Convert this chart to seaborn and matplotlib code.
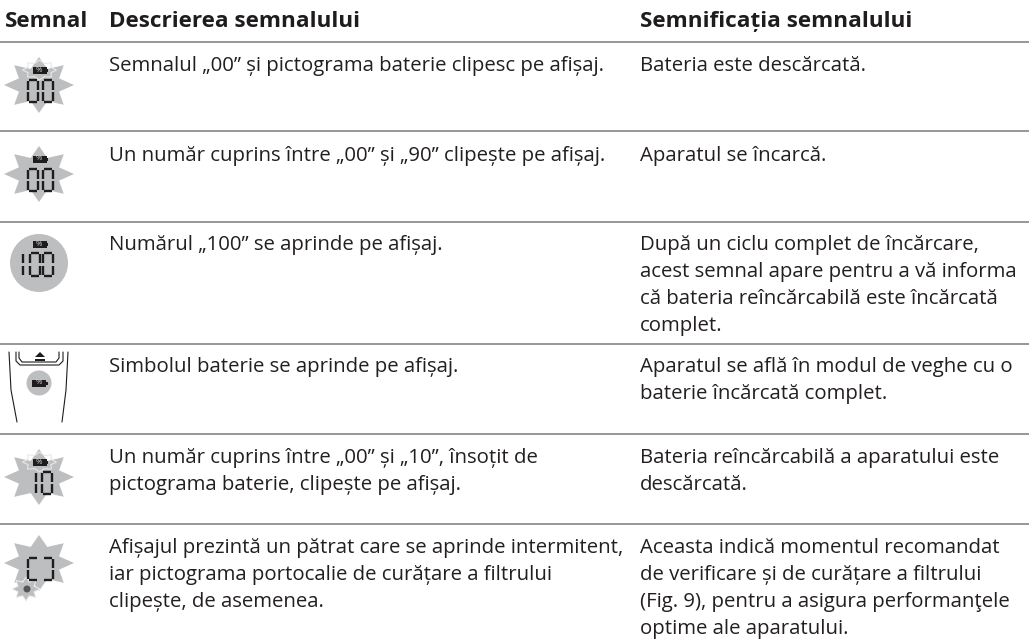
import numpy as np
import matplotlib
matplotlib.use("Agg")
import matplotlib.pyplot as plt
from matplotlib.patches import Polygon, Circle, Rectangle
import pandas as pd
import seaborn as sns

# Texte tabel
antet = ["Semnal", "Descrierea semnalului", "Semnificația semnalului"]
descriere = [
    "Semnalul „00” și pictograma baterie clipesc pe afișaj.",
    "Un număr cuprins între „00” și „90” clipește pe afișaj.",
    "Numărul „100” se aprinde pe afișaj.",
    "Simbolul baterie se aprinde pe afișaj.",
    "Un număr cuprins între „00” și „10”, însoțit de\npictograma baterie, clipește pe afișaj.",
    "Afișajul prezintă un pătrat care se aprinde intermitent,\niar pictograma portocalie de curățare a filtrului\nclipește, de asemenea.",
]
semnificatie = [
    "Bateria este descărcată.",
    "Aparatul se încarcă.",
    "După un ciclu complet de încărcare,\nacest semnal apare pentru a vă informa\ncă bateria reîncărcabilă este încărcată\ncomplet.",
    "Aparatul se află în modul de veghe cu o\nbaterie încărcată complet.",
    "Bateria reîncărcabilă a aparatului este\ndescărcată.",
    "Aceasta indică momentul recomandat\nde verificare și de curățare a filtrului\n(Fig. 9), pentru a asigura performanţele\noptime ale aparatului.",
]
cifre = ["00", "00", "100", "", "10", "[]"]

# pozitii randuri (pixeli)
linii_y = [42, 131, 222, 344, 434, 524]
baza_y = [71, 161, 250, 372, 463, 553]
icon_y = [85, 174, 263, None, 477, 563]
PAS = 27

GRI = "#bcbec0"
NEGRU = "#1f1c1d"

sns.set_theme(style="white")
plt.rcParams['font.family'] = ['Open Sans', 'DejaVu Sans']

fig, ax = plt.subplots(figsize=(10.29, 6.41), dpi=100)
fig.subplots_adjust(0, 0, 1, 1)
ax.set_xlim(0, 1029)
ax.set_ylim(641, 0)
ax.axis("off")

# Liniile orizontale
for y in linii_y:
    df = pd.DataFrame({"x": [0, 1029], "y": [y, y]})
    sns.lineplot(data=df, x="x", y="y", color="#8f8f8f", lw=1.3, ax=ax, legend=False, estimator=None)


def stea(cx, cy, rx=35, ry=28, n=8, inner=0.62, culoare=GRI, contur="none"):
    unghi = np.arange(2 * n) * np.pi / n - np.pi / 2
    raza = np.where(np.arange(2 * n) % 2 == 0, 1.0, inner)
    pts = np.column_stack([cx + rx * raza * np.cos(unghi), cy + ry * raza * np.sin(unghi)])
    ax.add_patch(Polygon(pts, closed=True, fc=culoare, ec=contur, lw=0.7, zorder=2))


def segment(x0, y0, x1, y1, lw=1.7):
    ax.plot([x0, x1], [y0, y1], color=NEGRU, lw=lw, solid_capstyle="butt", zorder=4)


def cifra(c, x, y, w=10, h=22):
    # x,y colt stanga sus, afisaj cu 7 segmente
    g = 1.3
    if c == "1":
        segment(x + w, y + g, x + w, y + h / 2 - g)
        segment(x + w, y + h / 2 + g, x + w, y + h - g)
    if c in "0[":
        segment(x, y + g, x, y + h / 2 - g)
        segment(x, y + h / 2 + g, x, y + h - g)
    if c in "0]":
        segment(x + w, y + g, x + w, y + h / 2 - g)
        segment(x + w, y + h / 2 + g, x + w, y + h - g)
    if c in "0[]":
        segment(x + g, y, x + w - g, y)
        segment(x + g, y + h, x + w - g, y + h)


def baterie(cx, cy, w=14, h=7):
    ax.add_patch(Rectangle((cx - w / 2, cy - h / 2), w, h, fc=NEGRU, ec="none", zorder=4))
    ax.add_patch(Rectangle((cx + w / 2, cy - 1.5), 1.5, 3, fc=NEGRU, ec="none", zorder=4))
    ax.text(cx - 0.5, cy, "%", color="#d8d8d8", fontsize=5.5, ha="center", va="center", zorder=5)


def nr_afisaj(text, cx, sus, h=22):
    if text == "100":
        pozitii = [cx - 26, cx - 9, cx + 4]
    elif text == "10":
        pozitii = [cx - 13, cx + 3]
    else:
        pozitii = [cx - 11, cx + 4]
    for c, x in zip(text, pozitii):
        cifra(c, x, sus, w=10, h=h)


def halo(cx, cy):
    # steluta alba in jurul pictogramei care clipeste
    t = np.arange(16) * np.pi / 8
    r = np.where(np.arange(16) % 2 == 0, 1.0, 0.72)
    pts = np.column_stack([cx + 17 * r * np.cos(t), cy + 10 * r * np.sin(t)])
    ax.add_patch(Polygon(pts, closed=True, fc="none", ec="#e8e8e8", lw=0.8, zorder=3))


# Rand 1, 2, 5: stele cu numar
for i in [0, 1, 4]:
    cy = icon_y[i]
    stea(39, cy)
    if i != 1:
        halo(39.5, cy - 15)
    baterie(39.5, cy - 15)
    nr_afisaj(cifre[i], 39, cy - 5)

# Rand 3: cerc
ax.add_patch(Circle((39, icon_y[2]), 29, fc=GRI, ec="none", zorder=2))
baterie(39.5, icon_y[2] - 19)
nr_afisaj(cifre[2], 39, icon_y[2] - 10, h=23)

# Rand 4: aparat
ax.plot([9, 11, 17], [352, 390, 422], color=NEGRU, lw=0.8, zorder=2)
ax.plot([68, 66, 62], [352, 390, 422], color=NEGRU, lw=0.8, zorder=2)
ax.plot([16, 16, 20, 59, 63, 63], [352, 361, 365, 365, 361, 352], color=NEGRU, lw=0.8, zorder=2)
ax.plot([19, 19, 22, 56, 59, 59], [352, 358, 362, 362, 358, 352], color=NEGRU, lw=0.8, zorder=2)
ax.add_patch(Polygon([(35, 357), (45, 357), (40, 352)], closed=True, fc=NEGRU, ec="none", zorder=3))
ax.add_patch(Rectangle((35, 358.5), 10, 2.2, fc=NEGRU, ec="none", zorder=3))
ax.add_patch(Circle((39, 383), 12.5, fc=GRI, ec="none", zorder=2))
baterie(39, 383)

# Rand 6: patrat si pictograma filtru
cy = icon_y[5]
stea(39, cy)
nr_afisaj(cifre[5], 39, cy - 5, h=22)
stea(26, cy + 26, rx=14, ry=12, culoare=GRI, contur="#eeeeee")
ax.add_patch(Circle((27, cy + 26), 3.5, fc="#55555a", ec="none", zorder=4))

# Antet
xs = [5, 109, 640]
for x, t in zip(xs, antet):
    ax.text(x, 27, t, fontsize=16.2, fontweight="bold", color=NEGRU, ha="left", va="baseline")

# Corp tabel, fiecare rand de text pe baza lui
for i in range(len(descriere)):
    for k, rand in enumerate(descriere[i].split("\n")):
        ax.text(109, baza_y[i] + k * PAS, rand, fontsize=14.7, color="#231f20", ha="left", va="baseline")
    for k, rand in enumerate(semnificatie[i].split("\n")):
        ax.text(640, baza_y[i] + k * PAS, rand, fontsize=14.7, color="#231f20", ha="left", va="baseline")

fig.savefig("out.png", dpi=100)
